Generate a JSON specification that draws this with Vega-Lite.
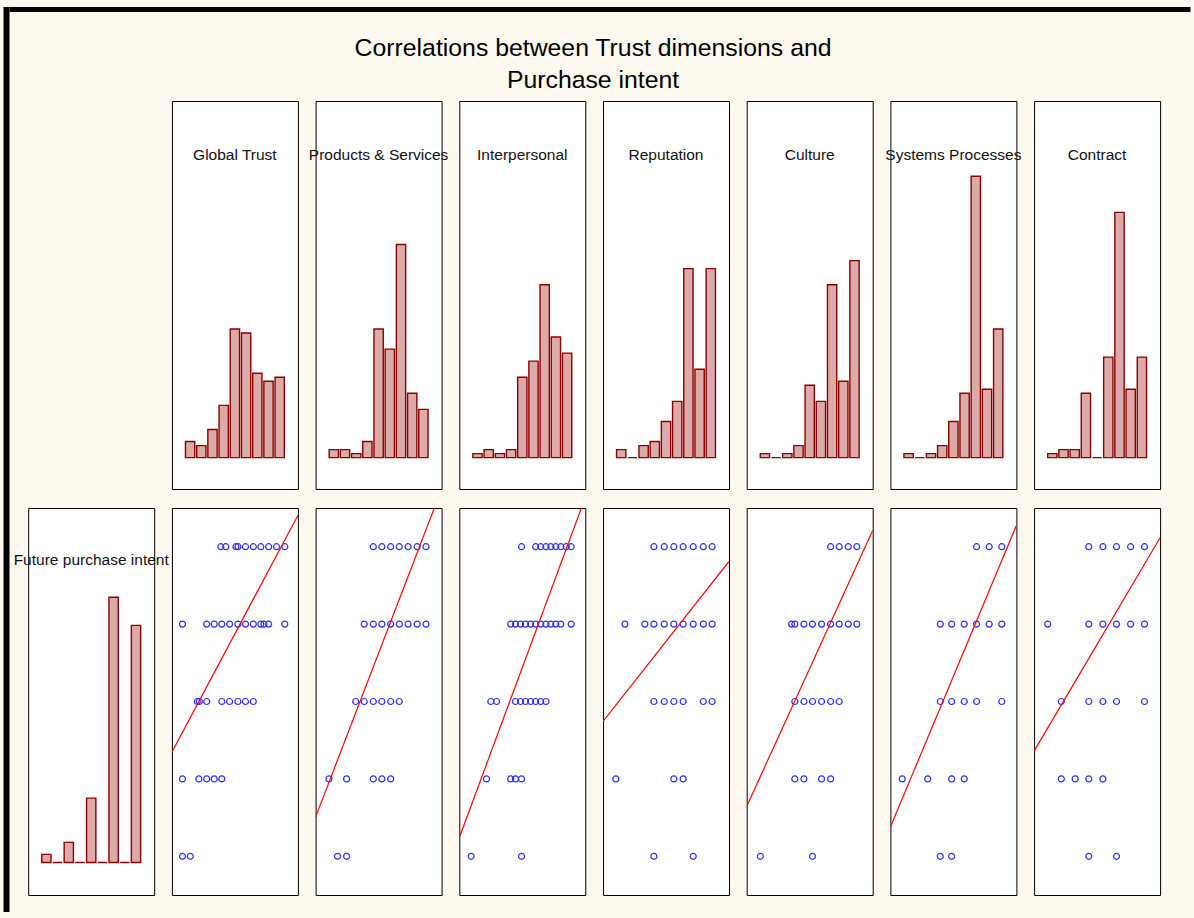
{
  "$schema": "https://vega.github.io/schema/vega-lite/v6.json",
  "background": "#FEF9EE",
  "padding": {"left": 3.5, "top": 7, "right": 3.5, "bottom": 6},
  "config": {
    "view": {"stroke": "#000000", "strokeWidth": 1, "fill": "#FFFFFF"},
    "title": {"font": "Liberation Sans", "fontWeight": "normal", "color": "#111111"}
  },
  "datasets": {
    "hist": [
      {"v": "Global Trust", "bin": 1, "n": 4}, {"v": "Global Trust", "bin": 2, "n": 3}, {"v": "Global Trust", "bin": 3, "n": 7}, {"v": "Global Trust", "bin": 4, "n": 13}, {"v": "Global Trust", "bin": 5, "n": 32}, {"v": "Global Trust", "bin": 6, "n": 31}, {"v": "Global Trust", "bin": 7, "n": 21}, {"v": "Global Trust", "bin": 8, "n": 19}, {"v": "Global Trust", "bin": 9, "n": 20},
      {"v": "Products & Services", "bin": 1, "n": 2}, {"v": "Products & Services", "bin": 2, "n": 2}, {"v": "Products & Services", "bin": 3, "n": 1}, {"v": "Products & Services", "bin": 4, "n": 4}, {"v": "Products & Services", "bin": 5, "n": 32}, {"v": "Products & Services", "bin": 6, "n": 27}, {"v": "Products & Services", "bin": 7, "n": 53}, {"v": "Products & Services", "bin": 8, "n": 16}, {"v": "Products & Services", "bin": 9, "n": 12},
      {"v": "Interpersonal", "bin": 1, "n": 1}, {"v": "Interpersonal", "bin": 2, "n": 2}, {"v": "Interpersonal", "bin": 3, "n": 1}, {"v": "Interpersonal", "bin": 4, "n": 2}, {"v": "Interpersonal", "bin": 5, "n": 20}, {"v": "Interpersonal", "bin": 6, "n": 24}, {"v": "Interpersonal", "bin": 7, "n": 43}, {"v": "Interpersonal", "bin": 8, "n": 30}, {"v": "Interpersonal", "bin": 9, "n": 26},
      {"v": "Reputation", "bin": 1, "n": 2}, {"v": "Reputation", "bin": 2, "n": 0}, {"v": "Reputation", "bin": 3, "n": 3}, {"v": "Reputation", "bin": 4, "n": 4}, {"v": "Reputation", "bin": 5, "n": 9}, {"v": "Reputation", "bin": 6, "n": 14}, {"v": "Reputation", "bin": 7, "n": 47}, {"v": "Reputation", "bin": 8, "n": 22}, {"v": "Reputation", "bin": 9, "n": 47},
      {"v": "Culture", "bin": 1, "n": 1}, {"v": "Culture", "bin": 2, "n": 0}, {"v": "Culture", "bin": 3, "n": 1}, {"v": "Culture", "bin": 4, "n": 3}, {"v": "Culture", "bin": 5, "n": 18}, {"v": "Culture", "bin": 6, "n": 14}, {"v": "Culture", "bin": 7, "n": 43}, {"v": "Culture", "bin": 8, "n": 19}, {"v": "Culture", "bin": 9, "n": 49},
      {"v": "Systems Processes", "bin": 1, "n": 1}, {"v": "Systems Processes", "bin": 2, "n": 0}, {"v": "Systems Processes", "bin": 3, "n": 1}, {"v": "Systems Processes", "bin": 4, "n": 3}, {"v": "Systems Processes", "bin": 5, "n": 9}, {"v": "Systems Processes", "bin": 6, "n": 16}, {"v": "Systems Processes", "bin": 7, "n": 70}, {"v": "Systems Processes", "bin": 8, "n": 17}, {"v": "Systems Processes", "bin": 9, "n": 32},
      {"v": "Contract", "bin": 1, "n": 1}, {"v": "Contract", "bin": 2, "n": 2}, {"v": "Contract", "bin": 3, "n": 2}, {"v": "Contract", "bin": 4, "n": 16}, {"v": "Contract", "bin": 5, "n": 0}, {"v": "Contract", "bin": 6, "n": 25}, {"v": "Contract", "bin": 7, "n": 61}, {"v": "Contract", "bin": 8, "n": 17}, {"v": "Contract", "bin": 9, "n": 25},
      {"v": "Future purchase intent", "bin": 1, "n": 2}, {"v": "Future purchase intent", "bin": 2, "n": 0}, {"v": "Future purchase intent", "bin": 3, "n": 5}, {"v": "Future purchase intent", "bin": 4, "n": 0}, {"v": "Future purchase intent", "bin": 5, "n": 16}, {"v": "Future purchase intent", "bin": 6, "n": 0}, {"v": "Future purchase intent", "bin": 7, "n": 66}, {"v": "Future purchase intent", "bin": 8, "n": 0}, {"v": "Future purchase intent", "bin": 9, "n": 59}
    ],
    "scatter": [
      {"v": "Global Trust", "x": 2.44, "y": 5}, {"v": "Global Trust", "x": 2.64, "y": 5}, {"v": "Global Trust", "x": 3.04, "y": 5}, {"v": "Global Trust", "x": 3.12, "y": 5}, {"v": "Global Trust", "x": 3.42, "y": 5}, {"v": "Global Trust", "x": 3.73, "y": 5}, {"v": "Global Trust", "x": 4.03, "y": 5}, {"v": "Global Trust", "x": 4.34, "y": 5}, {"v": "Global Trust", "x": 4.65, "y": 5}, {"v": "Global Trust", "x": 4.98, "y": 5},
      {"v": "Global Trust", "x": 0.92, "y": 4}, {"v": "Global Trust", "x": 1.88, "y": 4}, {"v": "Global Trust", "x": 2.18, "y": 4}, {"v": "Global Trust", "x": 2.48, "y": 4}, {"v": "Global Trust", "x": 2.79, "y": 4}, {"v": "Global Trust", "x": 3.12, "y": 4}, {"v": "Global Trust", "x": 3.42, "y": 4}, {"v": "Global Trust", "x": 3.73, "y": 4}, {"v": "Global Trust", "x": 4.03, "y": 4}, {"v": "Global Trust", "x": 4.15, "y": 4}, {"v": "Global Trust", "x": 4.34, "y": 4}, {"v": "Global Trust", "x": 4.98, "y": 4},
      {"v": "Global Trust", "x": 1.51, "y": 3}, {"v": "Global Trust", "x": 1.59, "y": 3}, {"v": "Global Trust", "x": 1.88, "y": 3}, {"v": "Global Trust", "x": 2.48, "y": 3}, {"v": "Global Trust", "x": 2.79, "y": 3}, {"v": "Global Trust", "x": 3.12, "y": 3}, {"v": "Global Trust", "x": 3.42, "y": 3}, {"v": "Global Trust", "x": 3.73, "y": 3},
      {"v": "Global Trust", "x": 0.92, "y": 2}, {"v": "Global Trust", "x": 1.57, "y": 2}, {"v": "Global Trust", "x": 1.88, "y": 2}, {"v": "Global Trust", "x": 2.18, "y": 2}, {"v": "Global Trust", "x": 2.48, "y": 2},
      {"v": "Global Trust", "x": 0.92, "y": 1}, {"v": "Global Trust", "x": 1.23, "y": 1},
      {"v": "Products & Services", "x": 2.79, "y": 5}, {"v": "Products & Services", "x": 3.13, "y": 5}, {"v": "Products & Services", "x": 3.48, "y": 5}, {"v": "Products & Services", "x": 3.82, "y": 5}, {"v": "Products & Services", "x": 4.17, "y": 5}, {"v": "Products & Services", "x": 4.53, "y": 5}, {"v": "Products & Services", "x": 4.88, "y": 5},
      {"v": "Products & Services", "x": 2.43, "y": 4}, {"v": "Products & Services", "x": 2.79, "y": 4}, {"v": "Products & Services", "x": 3.13, "y": 4}, {"v": "Products & Services", "x": 3.48, "y": 4}, {"v": "Products & Services", "x": 3.82, "y": 4}, {"v": "Products & Services", "x": 4.17, "y": 4}, {"v": "Products & Services", "x": 4.53, "y": 4}, {"v": "Products & Services", "x": 4.88, "y": 4},
      {"v": "Products & Services", "x": 2.09, "y": 3}, {"v": "Products & Services", "x": 2.43, "y": 3}, {"v": "Products & Services", "x": 2.79, "y": 3}, {"v": "Products & Services", "x": 3.13, "y": 3}, {"v": "Products & Services", "x": 3.48, "y": 3}, {"v": "Products & Services", "x": 3.82, "y": 3},
      {"v": "Products & Services", "x": 1.03, "y": 2}, {"v": "Products & Services", "x": 1.73, "y": 2}, {"v": "Products & Services", "x": 2.79, "y": 2}, {"v": "Products & Services", "x": 3.13, "y": 2}, {"v": "Products & Services", "x": 3.48, "y": 2},
      {"v": "Products & Services", "x": 1.37, "y": 1}, {"v": "Products & Services", "x": 1.73, "y": 1},
      {"v": "Interpersonal", "x": 2.97, "y": 5}, {"v": "Interpersonal", "x": 3.53, "y": 5}, {"v": "Interpersonal", "x": 3.73, "y": 5}, {"v": "Interpersonal", "x": 3.94, "y": 5}, {"v": "Interpersonal", "x": 4.13, "y": 5}, {"v": "Interpersonal", "x": 4.33, "y": 5}, {"v": "Interpersonal", "x": 4.53, "y": 5}, {"v": "Interpersonal", "x": 4.74, "y": 5}, {"v": "Interpersonal", "x": 4.94, "y": 5},
      {"v": "Interpersonal", "x": 2.54, "y": 4}, {"v": "Interpersonal", "x": 2.73, "y": 4}, {"v": "Interpersonal", "x": 2.93, "y": 4}, {"v": "Interpersonal", "x": 3.13, "y": 4}, {"v": "Interpersonal", "x": 3.33, "y": 4}, {"v": "Interpersonal", "x": 3.53, "y": 4}, {"v": "Interpersonal", "x": 3.73, "y": 4}, {"v": "Interpersonal", "x": 3.94, "y": 4}, {"v": "Interpersonal", "x": 4.13, "y": 4}, {"v": "Interpersonal", "x": 4.33, "y": 4}, {"v": "Interpersonal", "x": 4.53, "y": 4}, {"v": "Interpersonal", "x": 4.94, "y": 4},
      {"v": "Interpersonal", "x": 1.75, "y": 3}, {"v": "Interpersonal", "x": 1.98, "y": 3}, {"v": "Interpersonal", "x": 2.73, "y": 3}, {"v": "Interpersonal", "x": 2.93, "y": 3}, {"v": "Interpersonal", "x": 3.13, "y": 3}, {"v": "Interpersonal", "x": 3.33, "y": 3}, {"v": "Interpersonal", "x": 3.53, "y": 3}, {"v": "Interpersonal", "x": 3.73, "y": 3}, {"v": "Interpersonal", "x": 3.94, "y": 3},
      {"v": "Interpersonal", "x": 1.58, "y": 2}, {"v": "Interpersonal", "x": 2.54, "y": 2}, {"v": "Interpersonal", "x": 2.73, "y": 2}, {"v": "Interpersonal", "x": 2.97, "y": 2},
      {"v": "Interpersonal", "x": 0.97, "y": 1}, {"v": "Interpersonal", "x": 2.97, "y": 1},
      {"v": "Reputation", "x": 2.52, "y": 5}, {"v": "Reputation", "x": 2.93, "y": 5}, {"v": "Reputation", "x": 3.31, "y": 5}, {"v": "Reputation", "x": 3.68, "y": 5}, {"v": "Reputation", "x": 4.08, "y": 5}, {"v": "Reputation", "x": 4.48, "y": 5}, {"v": "Reputation", "x": 4.83, "y": 5},
      {"v": "Reputation", "x": 1.37, "y": 4}, {"v": "Reputation", "x": 2.16, "y": 4}, {"v": "Reputation", "x": 2.52, "y": 4}, {"v": "Reputation", "x": 2.93, "y": 4}, {"v": "Reputation", "x": 3.31, "y": 4}, {"v": "Reputation", "x": 3.68, "y": 4}, {"v": "Reputation", "x": 4.08, "y": 4}, {"v": "Reputation", "x": 4.48, "y": 4}, {"v": "Reputation", "x": 4.83, "y": 4},
      {"v": "Reputation", "x": 2.52, "y": 3}, {"v": "Reputation", "x": 2.93, "y": 3}, {"v": "Reputation", "x": 3.31, "y": 3}, {"v": "Reputation", "x": 3.68, "y": 3}, {"v": "Reputation", "x": 4.48, "y": 3}, {"v": "Reputation", "x": 4.83, "y": 3},
      {"v": "Reputation", "x": 1.01, "y": 2}, {"v": "Reputation", "x": 3.31, "y": 2}, {"v": "Reputation", "x": 3.68, "y": 2},
      {"v": "Reputation", "x": 2.52, "y": 1}, {"v": "Reputation", "x": 4.08, "y": 1},
      {"v": "Culture", "x": 3.83, "y": 5}, {"v": "Culture", "x": 4.17, "y": 5}, {"v": "Culture", "x": 4.53, "y": 5}, {"v": "Culture", "x": 4.87, "y": 5},
      {"v": "Culture", "x": 2.28, "y": 4}, {"v": "Culture", "x": 2.41, "y": 4}, {"v": "Culture", "x": 2.77, "y": 4}, {"v": "Culture", "x": 3.11, "y": 4}, {"v": "Culture", "x": 3.47, "y": 4}, {"v": "Culture", "x": 3.83, "y": 4}, {"v": "Culture", "x": 4.17, "y": 4}, {"v": "Culture", "x": 4.53, "y": 4}, {"v": "Culture", "x": 4.87, "y": 4},
      {"v": "Culture", "x": 2.41, "y": 3}, {"v": "Culture", "x": 2.77, "y": 3}, {"v": "Culture", "x": 3.11, "y": 3}, {"v": "Culture", "x": 3.47, "y": 3}, {"v": "Culture", "x": 3.83, "y": 3}, {"v": "Culture", "x": 4.17, "y": 3},
      {"v": "Culture", "x": 2.41, "y": 2}, {"v": "Culture", "x": 2.77, "y": 2}, {"v": "Culture", "x": 3.47, "y": 2}, {"v": "Culture", "x": 3.83, "y": 2},
      {"v": "Culture", "x": 1.04, "y": 1}, {"v": "Culture", "x": 3.11, "y": 1},
      {"v": "Systems Processes", "x": 3.92, "y": 5}, {"v": "Systems Processes", "x": 4.42, "y": 5}, {"v": "Systems Processes", "x": 4.92, "y": 5},
      {"v": "Systems Processes", "x": 2.48, "y": 4}, {"v": "Systems Processes", "x": 2.93, "y": 4}, {"v": "Systems Processes", "x": 3.43, "y": 4}, {"v": "Systems Processes", "x": 3.92, "y": 4}, {"v": "Systems Processes", "x": 4.42, "y": 4}, {"v": "Systems Processes", "x": 4.92, "y": 4},
      {"v": "Systems Processes", "x": 2.48, "y": 3}, {"v": "Systems Processes", "x": 2.93, "y": 3}, {"v": "Systems Processes", "x": 3.43, "y": 3}, {"v": "Systems Processes", "x": 3.92, "y": 3}, {"v": "Systems Processes", "x": 4.92, "y": 3},
      {"v": "Systems Processes", "x": 0.97, "y": 2}, {"v": "Systems Processes", "x": 1.98, "y": 2}, {"v": "Systems Processes", "x": 2.93, "y": 2}, {"v": "Systems Processes", "x": 3.43, "y": 2},
      {"v": "Systems Processes", "x": 2.48, "y": 1}, {"v": "Systems Processes", "x": 2.93, "y": 1},
      {"v": "Contract", "x": 2.67, "y": 5}, {"v": "Contract", "x": 3.23, "y": 5}, {"v": "Contract", "x": 3.77, "y": 5}, {"v": "Contract", "x": 4.33, "y": 5}, {"v": "Contract", "x": 4.88, "y": 5},
      {"v": "Contract", "x": 1.04, "y": 4}, {"v": "Contract", "x": 2.67, "y": 4}, {"v": "Contract", "x": 3.23, "y": 4}, {"v": "Contract", "x": 3.77, "y": 4}, {"v": "Contract", "x": 4.33, "y": 4}, {"v": "Contract", "x": 4.88, "y": 4},
      {"v": "Contract", "x": 1.58, "y": 3}, {"v": "Contract", "x": 2.67, "y": 3}, {"v": "Contract", "x": 3.23, "y": 3}, {"v": "Contract", "x": 3.77, "y": 3}, {"v": "Contract", "x": 4.88, "y": 3},
      {"v": "Contract", "x": 1.58, "y": 2}, {"v": "Contract", "x": 2.13, "y": 2}, {"v": "Contract", "x": 2.67, "y": 2}, {"v": "Contract", "x": 3.23, "y": 2},
      {"v": "Contract", "x": 2.67, "y": 1}, {"v": "Contract", "x": 3.77, "y": 1}
    ],
    "fit": [
      {"v": "Global Trust", "x": 0.5, "y": 2.346}, {"v": "Global Trust", "x": 5.5, "y": 5.404},
      {"v": "Products & Services", "x": 0.5, "y": 1.506}, {"v": "Products & Services", "x": 5.5, "y": 5.743},
      {"v": "Interpersonal", "x": 0.5, "y": 1.24}, {"v": "Interpersonal", "x": 5.5, "y": 5.636},
      {"v": "Reputation", "x": 0.5, "y": 2.743}, {"v": "Reputation", "x": 5.5, "y": 4.81},
      {"v": "Culture", "x": 0.5, "y": 1.645}, {"v": "Culture", "x": 5.5, "y": 5.21},
      {"v": "Systems Processes", "x": 0.5, "y": 1.377}, {"v": "Systems Processes", "x": 5.5, "y": 5.275},
      {"v": "Contract", "x": 0.5, "y": 2.359}, {"v": "Contract", "x": 5.5, "y": 5.116}
    ]
  },
  "spacing": 0,
  "hconcat": [
    {"width": 6, "height": 905, "view": {"stroke": null, "fill": "#000000"}, "data": {"values": []}, "mark": "point", "encoding": {}},
    {
      "spacing": 89,
      "bounds": "flush",
      "vconcat": [
        {"width": 1181, "height": 5, "view": {"stroke": null, "fill": "#000000"}, "data": {"values": []}, "mark": "point", "encoding": {}},
        {
          "title": {"text": ["Correlations between Trust dimensions and", "Purchase intent"], "fontSize": 24.8, "lineHeight": 32, "anchor": "middle", "offset": 8, "dx": 8, "color": "#000000"},
          "spacing": 17,
          "vconcat": [
            {
              "spacing": 17.7,
              "bounds": "flush",
              "hconcat": [
                {"width": 1, "height": 388, "view": {"stroke": null, "fill": null}, "data": {"values": []}, "mark": "point", "encoding": {}},
                {"width": 126, "height": 388, "view": {"stroke": null, "fill": null}, "data": {"values": []}, "mark": "point", "encoding": {}},
                {"width": 126, "height": 388, "title": {"text": "Global Trust", "fontSize": 15.5, "offset": -62}, "data": {"name": "hist"}, "transform": [{"filter": "datum.v === 'Global Trust'"}], "mark": {"type": "bar", "fill": "#DDAAAA", "stroke": "#8B0000", "strokeWidth": 1.4}, "encoding": {"x": {"field": "bin", "type": "ordinal", "axis": null, "scale": {"domain": [0,1,2,3,4,5,6,7,8,9,10], "paddingInner": 0.17, "paddingOuter": 0.21}}, "y": {"field": "n", "type": "quantitative", "axis": null, "scale": {"domain": [-7.8, 88.7], "nice": false, "zero": false}}, "y2": {"datum": 0}}},
                {"width": 126, "height": 388, "title": {"text": "Products & Services", "fontSize": 15.5, "offset": -62}, "data": {"name": "hist"}, "transform": [{"filter": "datum.v === 'Products & Services'"}], "mark": {"type": "bar", "fill": "#DDAAAA", "stroke": "#8B0000", "strokeWidth": 1.4}, "encoding": {"x": {"field": "bin", "type": "ordinal", "axis": null, "scale": {"domain": [0,1,2,3,4,5,6,7,8,9,10], "paddingInner": 0.17, "paddingOuter": 0.21}}, "y": {"field": "n", "type": "quantitative", "axis": null, "scale": {"domain": [-7.8, 88.7], "nice": false, "zero": false}}, "y2": {"datum": 0}}},
                {"width": 126, "height": 388, "title": {"text": "Interpersonal", "fontSize": 15.5, "offset": -62}, "data": {"name": "hist"}, "transform": [{"filter": "datum.v === 'Interpersonal'"}], "mark": {"type": "bar", "fill": "#DDAAAA", "stroke": "#8B0000", "strokeWidth": 1.4}, "encoding": {"x": {"field": "bin", "type": "ordinal", "axis": null, "scale": {"domain": [0,1,2,3,4,5,6,7,8,9,10], "paddingInner": 0.17, "paddingOuter": 0.21}}, "y": {"field": "n", "type": "quantitative", "axis": null, "scale": {"domain": [-7.8, 88.7], "nice": false, "zero": false}}, "y2": {"datum": 0}}},
                {"width": 126, "height": 388, "title": {"text": "Reputation", "fontSize": 15.5, "offset": -62}, "data": {"name": "hist"}, "transform": [{"filter": "datum.v === 'Reputation'"}], "mark": {"type": "bar", "fill": "#DDAAAA", "stroke": "#8B0000", "strokeWidth": 1.4}, "encoding": {"x": {"field": "bin", "type": "ordinal", "axis": null, "scale": {"domain": [0,1,2,3,4,5,6,7,8,9,10], "paddingInner": 0.17, "paddingOuter": 0.21}}, "y": {"field": "n", "type": "quantitative", "axis": null, "scale": {"domain": [-7.8, 88.7], "nice": false, "zero": false}}, "y2": {"datum": 0}}},
                {"width": 126, "height": 388, "title": {"text": "Culture", "fontSize": 15.5, "offset": -62}, "data": {"name": "hist"}, "transform": [{"filter": "datum.v === 'Culture'"}], "mark": {"type": "bar", "fill": "#DDAAAA", "stroke": "#8B0000", "strokeWidth": 1.4}, "encoding": {"x": {"field": "bin", "type": "ordinal", "axis": null, "scale": {"domain": [0,1,2,3,4,5,6,7,8,9,10], "paddingInner": 0.17, "paddingOuter": 0.21}}, "y": {"field": "n", "type": "quantitative", "axis": null, "scale": {"domain": [-7.8, 88.7], "nice": false, "zero": false}}, "y2": {"datum": 0}}},
                {"width": 126, "height": 388, "title": {"text": "Systems Processes", "fontSize": 15.5, "offset": -62}, "data": {"name": "hist"}, "transform": [{"filter": "datum.v === 'Systems Processes'"}], "mark": {"type": "bar", "fill": "#DDAAAA", "stroke": "#8B0000", "strokeWidth": 1.4}, "encoding": {"x": {"field": "bin", "type": "ordinal", "axis": null, "scale": {"domain": [0,1,2,3,4,5,6,7,8,9,10], "paddingInner": 0.17, "paddingOuter": 0.21}}, "y": {"field": "n", "type": "quantitative", "axis": null, "scale": {"domain": [-7.8, 88.7], "nice": false, "zero": false}}, "y2": {"datum": 0}}},
                {"width": 126, "height": 388, "title": {"text": "Contract", "fontSize": 15.5, "offset": -62}, "data": {"name": "hist"}, "transform": [{"filter": "datum.v === 'Contract'"}], "mark": {"type": "bar", "fill": "#DDAAAA", "stroke": "#8B0000", "strokeWidth": 1.4}, "encoding": {"x": {"field": "bin", "type": "ordinal", "axis": null, "scale": {"domain": [0,1,2,3,4,5,6,7,8,9,10], "paddingInner": 0.17, "paddingOuter": 0.21}}, "y": {"field": "n", "type": "quantitative", "axis": null, "scale": {"domain": [-7.8, 88.7], "nice": false, "zero": false}}, "y2": {"datum": 0}}}
              ]
            },
            {
              "spacing": 17.7,
              "bounds": "flush",
              "hconcat": [
                {"width": 1, "height": 387, "view": {"stroke": null, "fill": null}, "data": {"values": []}, "mark": "point", "encoding": {}},
                {"width": 126, "height": 387, "title": {"text": "Future purchase intent", "fontSize": 15.5, "offset": -60}, "data": {"name": "hist"}, "transform": [{"filter": "datum.v === 'Future purchase intent'"}], "mark": {"type": "bar", "fill": "#DDAAAA", "stroke": "#8B0000", "strokeWidth": 1.4}, "encoding": {"x": {"field": "bin", "type": "ordinal", "axis": null, "scale": {"domain": [0,1,2,3,4,5,6,7,8,9,10], "paddingInner": 0.17, "paddingOuter": 0.21}}, "y": {"field": "n", "type": "quantitative", "axis": null, "scale": {"domain": [-8.1, 88.2], "nice": false, "zero": false}}, "y2": {"datum": 0}}},
                {"width": 126, "height": 387, "layer": [
                  {"data": {"name": "scatter"}, "transform": [{"filter": "datum.v === 'Global Trust'"}], "mark": {"type": "point", "shape": "circle", "filled": false, "stroke": "#2E2EFF", "strokeWidth": 1.2, "size": 36, "opacity": 1}, "encoding": {"x": {"field": "x", "type": "quantitative", "axis": null, "scale": {"domain": [0.5, 5.5], "nice": false, "zero": false}}, "y": {"field": "y", "type": "quantitative", "axis": null, "scale": {"domain": [0.5, 5.5], "nice": false, "zero": false}}}},
                  {"data": {"name": "fit"}, "transform": [{"filter": "datum.v === 'Global Trust'"}], "mark": {"type": "line", "stroke": "#FF0000", "strokeWidth": 1.2, "clip": true}, "encoding": {"x": {"field": "x", "type": "quantitative", "axis": null, "scale": {"domain": [0.5, 5.5], "nice": false, "zero": false}}, "y": {"field": "y", "type": "quantitative", "axis": null, "scale": {"domain": [0.5, 5.5], "nice": false, "zero": false}}}}
                ]},
                {"width": 126, "height": 387, "layer": [
                  {"data": {"name": "scatter"}, "transform": [{"filter": "datum.v === 'Products & Services'"}], "mark": {"type": "point", "shape": "circle", "filled": false, "stroke": "#2E2EFF", "strokeWidth": 1.2, "size": 36, "opacity": 1}, "encoding": {"x": {"field": "x", "type": "quantitative", "axis": null, "scale": {"domain": [0.5, 5.5], "nice": false, "zero": false}}, "y": {"field": "y", "type": "quantitative", "axis": null, "scale": {"domain": [0.5, 5.5], "nice": false, "zero": false}}}},
                  {"data": {"name": "fit"}, "transform": [{"filter": "datum.v === 'Products & Services'"}], "mark": {"type": "line", "stroke": "#FF0000", "strokeWidth": 1.2, "clip": true}, "encoding": {"x": {"field": "x", "type": "quantitative", "axis": null, "scale": {"domain": [0.5, 5.5], "nice": false, "zero": false}}, "y": {"field": "y", "type": "quantitative", "axis": null, "scale": {"domain": [0.5, 5.5], "nice": false, "zero": false}}}}
                ]},
                {"width": 126, "height": 387, "layer": [
                  {"data": {"name": "scatter"}, "transform": [{"filter": "datum.v === 'Interpersonal'"}], "mark": {"type": "point", "shape": "circle", "filled": false, "stroke": "#2E2EFF", "strokeWidth": 1.2, "size": 36, "opacity": 1}, "encoding": {"x": {"field": "x", "type": "quantitative", "axis": null, "scale": {"domain": [0.5, 5.5], "nice": false, "zero": false}}, "y": {"field": "y", "type": "quantitative", "axis": null, "scale": {"domain": [0.5, 5.5], "nice": false, "zero": false}}}},
                  {"data": {"name": "fit"}, "transform": [{"filter": "datum.v === 'Interpersonal'"}], "mark": {"type": "line", "stroke": "#FF0000", "strokeWidth": 1.2, "clip": true}, "encoding": {"x": {"field": "x", "type": "quantitative", "axis": null, "scale": {"domain": [0.5, 5.5], "nice": false, "zero": false}}, "y": {"field": "y", "type": "quantitative", "axis": null, "scale": {"domain": [0.5, 5.5], "nice": false, "zero": false}}}}
                ]},
                {"width": 126, "height": 387, "layer": [
                  {"data": {"name": "scatter"}, "transform": [{"filter": "datum.v === 'Reputation'"}], "mark": {"type": "point", "shape": "circle", "filled": false, "stroke": "#2E2EFF", "strokeWidth": 1.2, "size": 36, "opacity": 1}, "encoding": {"x": {"field": "x", "type": "quantitative", "axis": null, "scale": {"domain": [0.5, 5.5], "nice": false, "zero": false}}, "y": {"field": "y", "type": "quantitative", "axis": null, "scale": {"domain": [0.5, 5.5], "nice": false, "zero": false}}}},
                  {"data": {"name": "fit"}, "transform": [{"filter": "datum.v === 'Reputation'"}], "mark": {"type": "line", "stroke": "#FF0000", "strokeWidth": 1.2, "clip": true}, "encoding": {"x": {"field": "x", "type": "quantitative", "axis": null, "scale": {"domain": [0.5, 5.5], "nice": false, "zero": false}}, "y": {"field": "y", "type": "quantitative", "axis": null, "scale": {"domain": [0.5, 5.5], "nice": false, "zero": false}}}}
                ]},
                {"width": 126, "height": 387, "layer": [
                  {"data": {"name": "scatter"}, "transform": [{"filter": "datum.v === 'Culture'"}], "mark": {"type": "point", "shape": "circle", "filled": false, "stroke": "#2E2EFF", "strokeWidth": 1.2, "size": 36, "opacity": 1}, "encoding": {"x": {"field": "x", "type": "quantitative", "axis": null, "scale": {"domain": [0.5, 5.5], "nice": false, "zero": false}}, "y": {"field": "y", "type": "quantitative", "axis": null, "scale": {"domain": [0.5, 5.5], "nice": false, "zero": false}}}},
                  {"data": {"name": "fit"}, "transform": [{"filter": "datum.v === 'Culture'"}], "mark": {"type": "line", "stroke": "#FF0000", "strokeWidth": 1.2, "clip": true}, "encoding": {"x": {"field": "x", "type": "quantitative", "axis": null, "scale": {"domain": [0.5, 5.5], "nice": false, "zero": false}}, "y": {"field": "y", "type": "quantitative", "axis": null, "scale": {"domain": [0.5, 5.5], "nice": false, "zero": false}}}}
                ]},
                {"width": 126, "height": 387, "layer": [
                  {"data": {"name": "scatter"}, "transform": [{"filter": "datum.v === 'Systems Processes'"}], "mark": {"type": "point", "shape": "circle", "filled": false, "stroke": "#2E2EFF", "strokeWidth": 1.2, "size": 36, "opacity": 1}, "encoding": {"x": {"field": "x", "type": "quantitative", "axis": null, "scale": {"domain": [0.5, 5.5], "nice": false, "zero": false}}, "y": {"field": "y", "type": "quantitative", "axis": null, "scale": {"domain": [0.5, 5.5], "nice": false, "zero": false}}}},
                  {"data": {"name": "fit"}, "transform": [{"filter": "datum.v === 'Systems Processes'"}], "mark": {"type": "line", "stroke": "#FF0000", "strokeWidth": 1.2, "clip": true}, "encoding": {"x": {"field": "x", "type": "quantitative", "axis": null, "scale": {"domain": [0.5, 5.5], "nice": false, "zero": false}}, "y": {"field": "y", "type": "quantitative", "axis": null, "scale": {"domain": [0.5, 5.5], "nice": false, "zero": false}}}}
                ]},
                {"width": 126, "height": 387, "layer": [
                  {"data": {"name": "scatter"}, "transform": [{"filter": "datum.v === 'Contract'"}], "mark": {"type": "point", "shape": "circle", "filled": false, "stroke": "#2E2EFF", "strokeWidth": 1.2, "size": 36, "opacity": 1}, "encoding": {"x": {"field": "x", "type": "quantitative", "axis": null, "scale": {"domain": [0.5, 5.5], "nice": false, "zero": false}}, "y": {"field": "y", "type": "quantitative", "axis": null, "scale": {"domain": [0.5, 5.5], "nice": false, "zero": false}}}},
                  {"data": {"name": "fit"}, "transform": [{"filter": "datum.v === 'Contract'"}], "mark": {"type": "line", "stroke": "#FF0000", "strokeWidth": 1.2, "clip": true}, "encoding": {"x": {"field": "x", "type": "quantitative", "axis": null, "scale": {"domain": [0.5, 5.5], "nice": false, "zero": false}}, "y": {"field": "y", "type": "quantitative", "axis": null, "scale": {"domain": [0.5, 5.5], "nice": false, "zero": false}}}}
                ]}
              ]
            }
          ]
        }
      ]
    }
  ]
}
